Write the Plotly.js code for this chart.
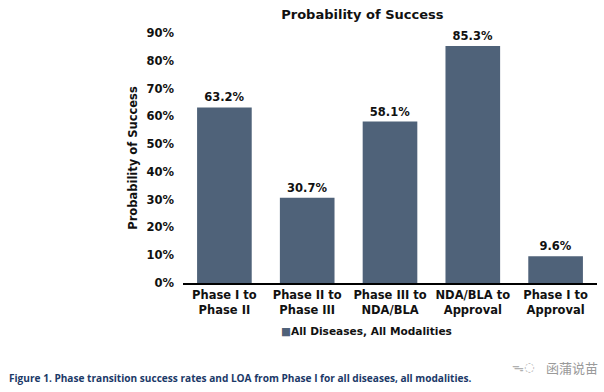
<!DOCTYPE html>
<html>
<head>
<meta charset="utf-8">
<script src="https://cdn.plot.ly/plotly-3.0.1.min.js"></script>
<style>html,body{margin:0;padding:0;background:#fff;}#chart{width:604px;height:392px;}</style>
</head>
<body>
<div id="chart"></div>
<script>
const categories = ["Phase I to<br>Phase II", "Phase II to<br>Phase III", "Phase III to<br>NDA/BLA", "NDA/BLA to<br>Approval", "Phase I to<br>Approval"];
const successRates = [63.2, 30.7, 58.1, 85.3, 9.6];
const seriesName = "All Diseases, All Modalities";
const yTickValues = [0, 10, 20, 30, 40, 50, 60, 70, 80, 90];

const boldFont = "DejaVu Sans, Verdana, sans-serif";
const barColor = "#4f6279";

const trace = {
  type: "bar",
  x: categories,
  y: successRates,
  name: seriesName,
  showlegend: false,
  marker: {color: barColor},
  text: successRates.map(v => v.toFixed(1) + "%"),
  textposition: "outside",
  cliponaxis: false,
  textfont: {family: boldFont, size: 11.5, color: "#111", weight: "bold"},
  hoverinfo: "none"
};

const layout = {
  width: 604, height: 392,
  paper_bgcolor: "#ffffff",
  plot_bgcolor: "#ffffff",
  margin: {l: 183, r: 7, t: 33, b: 109},
  bargap: 0.34,
  showlegend: false,
  title: {
    text: "<b>Probability of Success</b>",
    font: {family: boldFont, size: 13, color: "#111"},
    xref: "container", x: 0.6, xanchor: "center",
    yref: "container", y: 0.964, yanchor: "middle"
  },
  xaxis: {
    tickfont: {family: boldFont, size: 11.5, color: "#111", weight: "bold"},
    showline: true, linecolor: "#000", linewidth: 2,
    ticks: "", showgrid: false, automargin: false, fixedrange: true
  },
  yaxis: {
    range: [0, 90],
    tickvals: yTickValues,
    ticktext: yTickValues.map(v => v + "%"),
    tickfont: {family: boldFont, size: 11.5, color: "#111", weight: "bold"},
    showgrid: false, zeroline: false, showline: false, ticks: "",
    ticklabelstandoff: 8,
    automargin: false,
    title: {text: "<b>Probability of Success</b>", font: {family: boldFont, size: 11.5, color: "#111"}, standoff: 6}
  },
  annotations: [
    {
      text: "<span style=\"color:" + barColor + "\">■</span><b>" + seriesName + "</b>",
      xref: "paper", yref: "paper",
      x: (279 - 183) / 414, xanchor: "left",
      y: (283 - 331) / 250, yanchor: "middle",
      showarrow: false,
      font: {family: boldFont, size: 10.6, color: "#111"}
    },
    {
      text: "<b>Figure 1. Phase transition success rates and LOA from Phase I for all diseases, all modalities.</b>",
      xref: "paper", yref: "paper",
      x: (7 - 183) / 414, xanchor: "left",
      y: (283 - 378) / 250, yanchor: "middle",
      showarrow: false,
      font: {family: "Open Sans, sans-serif", size: 10.1, color: "#1b3968"}
    },
    {
      text: "函蒲说苗",
      xref: "paper", yref: "paper",
      x: (600 - 183) / 414, xanchor: "right",
      y: (283 - 367) / 250, yanchor: "middle",
      showarrow: false,
      font: {family: "Noto Sans CJK SC, sans-serif", size: 13, color: "#9a9a9a"}
    },
    {
      text: "ᯓ◌",
      xref: "paper", yref: "paper",
      x: (536 - 183) / 414, xanchor: "right",
      y: (283 - 367) / 250, yanchor: "middle",
      showarrow: false,
      font: {family: "DejaVu Sans, sans-serif", size: 12, color: "#b0b0b0"}
    }
  ]
};

Plotly.newPlot("chart", [trace], layout, {displayModeBar: false, staticPlot: true});
</script>
</body>
</html>
